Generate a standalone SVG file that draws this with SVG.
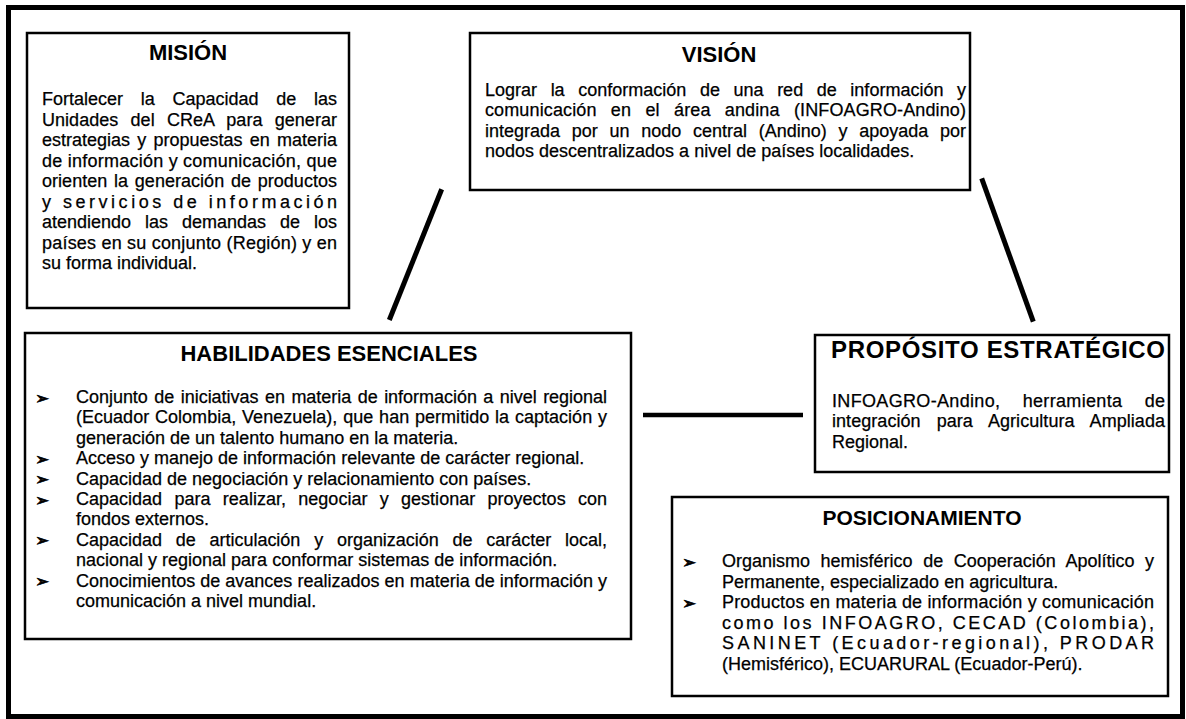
<svg xmlns="http://www.w3.org/2000/svg" width="1186" height="719" viewBox="0 0 1186 719">
<style>
.frame{fill:none;stroke:#000;stroke-width:5}
.box{fill:#fff;stroke:#000;stroke-width:2.5}
.title{font-family:"Liberation Sans",Arial,sans-serif;font-weight:bold;font-size:22px;text-anchor:middle;fill:#000}
.body{font-family:"Liberation Sans",Arial,sans-serif;font-size:18px;fill:#000;stroke:#000;stroke-width:0.25}
.bul{font-family:"DejaVu Sans",sans-serif;font-size:17px;fill:#000;stroke:#000;stroke-width:0.6}
.conn{stroke:#000;stroke-width:5;fill:none;stroke-linecap:butt}
</style>
<rect class="frame" x="8.5" y="7.5" width="1174" height="709"/>
<g id="connectors">
<line class="conn" x1="441.7" y1="189.3" x2="389.3" y2="320"/>
<line class="conn" x1="981.7" y1="178.3" x2="1033.3" y2="321.7"/>
<line class="conn" x1="643" y1="415" x2="803" y2="415" style="stroke-width:4.5"/>
</g>
<g id="mision">
<rect class="box" x="27" y="33" width="322" height="275"/>
<text class="title" x="188" y="60">MISIÓN</text>
<text class="body" x="42" y="105" textLength="295" lengthAdjust="spacing" style="word-spacing:12.7px">Fortalecer la Capacidad de las</text>
<text class="body" x="42" y="125.5" textLength="295" lengthAdjust="spacing" style="word-spacing:7.2px">Unidades del CReA para generar</text>
<text class="body" x="42" y="146" textLength="295" lengthAdjust="spacing" style="word-spacing:2.2px">estrategias y propuestas en materia</text>
<text class="body" x="42" y="166.5" textLength="295" lengthAdjust="spacing">de información y comunicación, que</text>
<text class="body" x="42" y="187" textLength="295" lengthAdjust="spacing" style="word-spacing:1.7px">orienten la generación de productos</text>
<text class="body" x="42" y="207.5" textLength="295" lengthAdjust="spacing">y servicios de información</text>
<text class="body" x="42" y="228" textLength="295" lengthAdjust="spacing" style="word-spacing:9px">atendiendo las demandas de los</text>
<text class="body" x="42" y="248.5" textLength="295" lengthAdjust="spacing">países en su conjunto (Región) y en</text>
<text class="body" x="42" y="269">su forma individual.</text>
</g>
<g id="vision">
<rect class="box" x="470" y="33" width="500" height="157"/>
<text class="title" x="719" y="62">VISIÓN</text>
<text class="body" x="485" y="96" textLength="481" lengthAdjust="spacing" style="word-spacing:8.6px">Lograr la conformación de una red de información y</text>
<text class="body" x="485" y="116.3" textLength="481" lengthAdjust="spacing" style="word-spacing:9.2px">comunicación en el área andina (INFOAGRO-Andino)</text>
<text class="body" x="485" y="136.6" textLength="481" lengthAdjust="spacing" style="word-spacing:6.7px">integrada por un nodo central (Andino) y apoyada por</text>
<text class="body" x="485" y="157">nodos descentralizados a nivel de países localidades.</text>
</g>
<g id="habilidades">
<rect class="box" x="25" y="333" width="606" height="306"/>
<text class="title" x="329" y="361">HABILIDADES ESENCIALES</text>
<text class="bul" x="35" y="403.5">➢</text>
<text class="body" x="76" y="403" textLength="531" lengthAdjust="spacing" style="word-spacing:1.5px">Conjunto de iniciativas en materia de información a nivel regional</text>
<text class="body" x="76" y="423.4" textLength="531" lengthAdjust="spacing" style="word-spacing:0.8px">(Ecuador Colombia, Venezuela), que han permitido la captación y</text>
<text class="body" x="76" y="443.8">generación de un talento humano en la materia.</text>
<text class="bul" x="35" y="464.7">➢</text>
<text class="body" x="76" y="464.2">Acceso y manejo de información relevante de carácter regional.</text>
<text class="bul" x="35" y="485.1">➢</text>
<text class="body" x="76" y="484.6">Capacidad de negociación y relacionamiento con países.</text>
<text class="bul" x="35" y="505.5">➢</text>
<text class="body" x="76" y="505" textLength="531" lengthAdjust="spacing" style="word-spacing:7.3px">Capacidad para realizar, negociar y gestionar proyectos con</text>
<text class="body" x="76" y="525.4">fondos externos.</text>
<text class="bul" x="35" y="546.3">➢</text>
<text class="body" x="76" y="545.8" textLength="531" lengthAdjust="spacing" style="word-spacing:8.8px">Capacidad de articulación y organización de carácter local,</text>
<text class="body" x="76" y="566.2">nacional y regional para conformar sistemas de información.</text>
<text class="bul" x="35" y="587.1">➢</text>
<text class="body" x="76" y="586.6" textLength="531" lengthAdjust="spacing">Conocimientos de avances realizados en materia de información y</text>
<text class="body" x="76" y="607">comunicación a nivel mundial.</text>
</g>
<g id="proposito">
<rect class="box" x="815" y="335" width="354" height="137"/>
<text class="title" x="998" y="358" style="font-size:24px" textLength="334" lengthAdjust="spacing">PROPÓSITO ESTRATÉGICO</text>
<text class="body" x="832" y="407" textLength="333" lengthAdjust="spacing" style="word-spacing:17px">INFOAGRO-Andino, herramienta de</text>
<text class="body" x="832" y="427.4" textLength="333" lengthAdjust="spacing" style="word-spacing:11px">integración para Agricultura Ampliada</text>
<text class="body" x="832" y="447.8">Regional.</text>
</g>
<g id="posicionamiento">
<rect class="box" x="672" y="497" width="496" height="199"/>
<text class="title" x="922" y="525" style="font-size:21px">POSICIONAMIENTO</text>
<text class="bul" x="682" y="567.5">➢</text>
<text class="body" x="722" y="567" textLength="432" lengthAdjust="spacing" style="word-spacing:5.6px">Organismo hemisférico de Cooperación Apolítico y</text>
<text class="body" x="722" y="587.5">Permanente, especializado en agricultura.</text>
<text class="bul" x="682" y="608.5">➢</text>
<text class="body" x="722" y="608" textLength="432" lengthAdjust="spacing">Productos en materia de información y comunicación</text>
<text class="body" x="722" y="628.5" textLength="432" lengthAdjust="spacing">como los INFOAGRO, CECAD (Colombia),</text>
<text class="body" x="722" y="649" textLength="432" lengthAdjust="spacing">SANINET (Ecuador-regional), PRODAR</text>
<text class="body" x="722" y="669.5">(Hemisférico), ECUARURAL (Ecuador-Perú).</text>
</g>
</svg>
